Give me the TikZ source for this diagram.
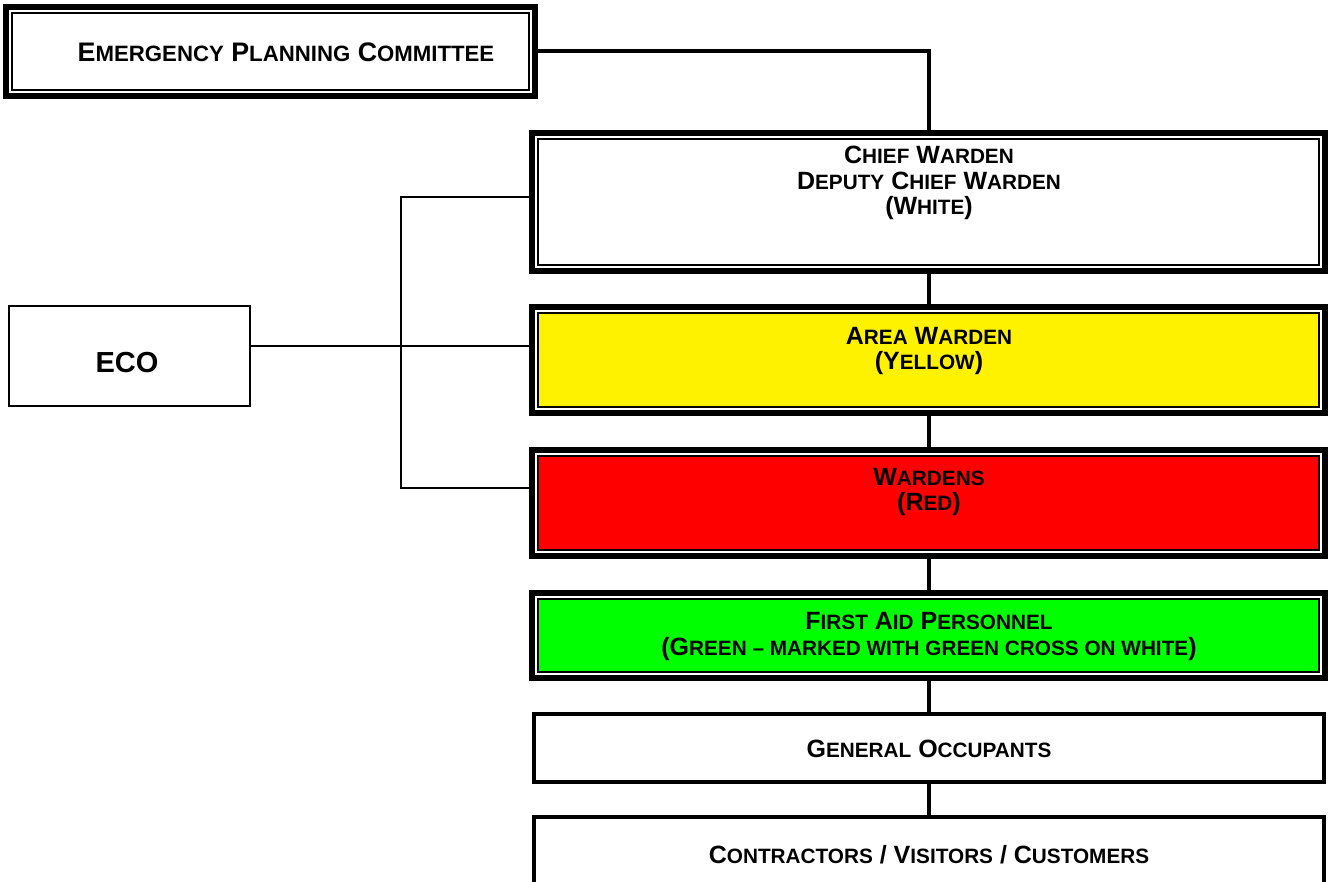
\documentclass[tikz,border=0pt]{standalone}
\usepackage{fontspec}
\setmainfont{Liberation Sans}
\usetikzlibrary{calc}
\pgfdeclarelayer{bg}
\pgfsetlayers{bg,main}
\newcommand\smc[1]{{\fontsize{20.75}{25.5}\selectfont #1}}
\newcommand\smcb[1]{{\fontsize{22.2}{25.5}\selectfont #1}}
\begin{document}
\begin{tikzpicture}[x=1pt,y=-1pt,
  tribox/.style={rectangle, draw=black, line width=6pt, fill=white,
    inner sep=0pt, outer sep=0pt,
    path picture={\draw[line width=2pt, fill=#1]
      ([shift={(6pt,-6pt)}]path picture bounding box.north west) rectangle
      ([shift={(-6pt,6pt)}]path picture bounding box.south east);}},
  plainbox/.style={rectangle, draw=black, line width=4pt, fill=white,
    inner sep=0pt, outer sep=0pt},
  thinbox/.style={rectangle, draw=black, line width=2pt, fill=white,
    inner sep=0pt, outer sep=0pt},
  lbl/.style={font=\fontsize{25}{25.5}\selectfont\bfseries, align=center,
    inner sep=0pt, text=black},
  conn/.style={draw=black, line width=4pt},
  thinconn/.style={draw=black, line width=2pt}
]
\useasboundingbox (0,0) rectangle (1328,882);

% boxes
\node[tribox=white, minimum width=529pt, minimum height=89pt] (epc) at (270.5,51.5) {};
\node[tribox=white, minimum width=793pt, minimum height=138pt] (cw) at (928.5,202) {};
\node[tribox=yellow, minimum width=793pt, minimum height=106pt] (aw) at (928.5,360) {};
\node[tribox=red, minimum width=793pt, minimum height=106pt] (wd) at (928.5,503) {};
\node[tribox=green, minimum width=793pt, minimum height=85pt] (fa) at (928.5,635.5) {};
\node[plainbox, minimum width=790pt, minimum height=68pt] (go) at (929,748) {};
\node[plainbox, minimum width=790pt, minimum height=103pt] (ct) at (929,868.5) {};
\node[thinbox, minimum width=241pt, minimum height=100pt] (eco) at (129.5,356) {};

% texts
\node[lbl, font=\fontsize{26.8}{27}\selectfont\bfseries, anchor=base] (t-epc) at (286,61.5) {E\smcb{MERGENCY} P\smcb{LANNING} C\smcb{OMMITTEE}};
\node[lbl] (t-cw) at (929,183) {C\smc{HIEF} W\smc{ARDEN}\\D\smc{EPUTY} C\smc{HIEF} W\smc{ARDEN}\\(W\smc{HITE})};
\node[lbl] (t-aw) at (929,351) {A\smc{REA} W\smc{ARDEN}\\(Y\smc{ELLOW})};
\node[lbl] (t-wd) at (929,492) {W\smc{ARDENS}\\(R\smc{ED})};
\node[lbl] (t-fa) at (929,636.5) {F\smc{IRST} A\smc{ID} P\smc{ERSONNEL}\\(G\smc{REEN – MARKED WITH GREEN CROSS ON WHITE})};
\node[lbl, anchor=base] (t-go) at (929,757) {G\smc{ENERAL} O\smc{CCUPANTS}};
\node[lbl, anchor=base] (t-ct) at (929,863) {C\smc{ONTRACTORS} / V\smc{ISITORS} / C\smc{USTOMERS}};
\node[lbl, font=\fontsize{29}{30}\selectfont\bfseries, anchor=base] (t-eco) at (127,372.5) {ECO};

% connector coordinates
\coordinate (j) at (401,346);
\coordinate (bt) at (401,197);
\coordinate (bb) at (401,488);

\begin{pgfonlayer}{bg}
\draw[conn] (epc.east) -| (cw.north);
\draw[conn] (cw.south) -- (aw.north);
\draw[conn] (aw.south) -- (wd.north);
\draw[conn] (wd.south) -- (fa.north);
\draw[conn] (fa.south) -- (fa.south |- go.north);
\draw[conn] (go.south -| fa.south) -- (fa.south |- ct.north);
\draw[thinconn] (eco.east |- j) -- (aw.west |- j);
\draw[thinconn] (cw.west |- bt) -- (bt) -- (bb) -- (wd.west |- bb);
\end{pgfonlayer}
\end{tikzpicture}
\end{document}
